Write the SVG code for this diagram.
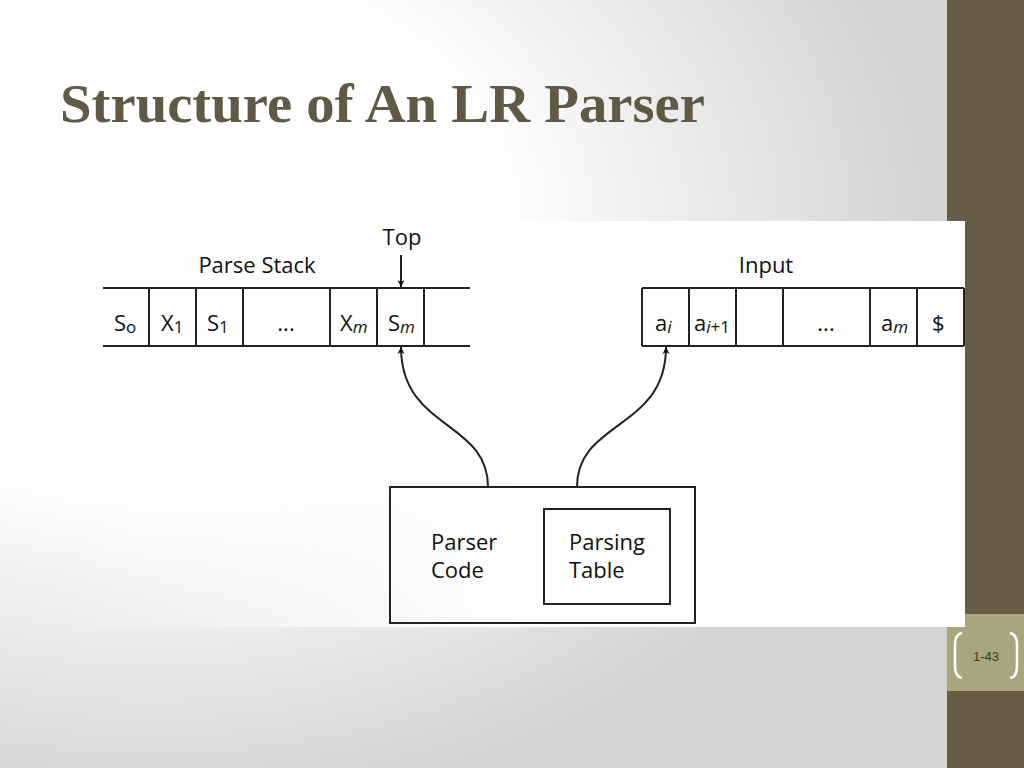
<svg xmlns="http://www.w3.org/2000/svg" width="1024" height="768" viewBox="0 0 1024 768">
<defs>
<radialGradient id="bg" cx="0.15" cy="0.3" r="0.75">
<stop offset="0.45" stop-color="#ffffff"/><stop offset="1" stop-color="#d4d4d4"/>
</radialGradient>
<linearGradient id="fade" x1="0" x2="1" y1="0" y2="0">
<stop offset="0" stop-color="#fff" stop-opacity="0"/><stop offset="0.5" stop-color="#fff" stop-opacity="1"/>
</linearGradient>
<marker id="ah" viewBox="0 0 10 10" refX="10" refY="5" markerWidth="7" markerHeight="9" orient="auto" markerUnits="userSpaceOnUse"><path d="M0,0 L10,5 L0,10 L3,5 z" fill="#111"/></marker>
<style>
.t{font-family:"Open Sans","DejaVu Sans",sans-serif;font-size:22px;fill:#111}
.s{font-family:"Open Sans","DejaVu Sans",sans-serif;font-size:17px;fill:#111}
.l{stroke:#222;stroke-width:2;fill:none}
</style>
</defs>
<rect width="1024" height="768" fill="url(#bg)"/>
<rect x="947" y="0" width="77" height="768" fill="#675c47"/>
<rect x="947" y="614" width="77" height="77" fill="#aaa57e"/>
<path d="M962,633 Q955,634 955,645 L955,666 Q955,677 962,678" stroke="#fff" stroke-width="2.5" fill="none"/>
<path d="M1010,633 Q1017,634 1017,645 L1017,666 Q1017,677 1010,678" stroke="#fff" stroke-width="2.5" fill="none"/>
<text x="986" y="661" text-anchor="middle" font-family="Liberation Sans,sans-serif" font-size="13" fill="#3d3a2a">1-43</text>
<text x="60" y="122" font-family="Liberation Serif,serif" font-size="54" font-weight="bold" fill="#5e5a44" textLength="645" lengthAdjust="spacingAndGlyphs">Structure of An LR Parser</text>
<rect x="60" y="221" width="905" height="406" fill="url(#fade)"/>
<rect x="520" y="221" width="445" height="406" fill="#fff"/>
<g id="stack">
<path class="l" d="M103,288H470M103,346H470M149,288V346M196,288V346M243,288V346M330,288V346M377,288V346M424,288V346"/>
<text class="t" x="257" y="273" text-anchor="middle">Parse Stack</text>
<text class="t" x="402" y="245" text-anchor="middle">Top</text>
<text class="t" x="114" y="331">S<tspan class="s" dy="2">o</tspan></text>
<text class="t" x="161" y="331">X<tspan class="s" dy="2">1</tspan></text>
<text class="t" x="207" y="331">S<tspan class="s" dy="2">1</tspan></text>
<text class="t" x="286" y="331" text-anchor="middle">...</text>
<text class="t" x="340" y="331">X<tspan class="s" dy="2" font-style="italic">m</tspan></text>
<text class="t" x="388" y="331">S<tspan class="s" dy="2" font-style="italic">m</tspan></text>
</g>
<g id="input">
<path class="l" d="M642,288H964M642,346H964M642,288V346M689,288V346M736,288V346M783,288V346M870,288V346M917,288V346M964,288V346"/>
<text class="t" x="766" y="273" text-anchor="middle">Input</text>
<text class="t" x="655" y="331">a<tspan class="s" dy="2" font-style="italic">i</tspan></text>
<text class="t" x="694" y="331">a<tspan class="s" dy="2"><tspan font-style="italic">i</tspan>+1</tspan></text>
<text class="t" x="826" y="331" text-anchor="middle">...</text>
<text class="t" x="881" y="331">a<tspan class="s" dy="2" font-style="italic">m</tspan></text>
<text class="t" x="932" y="331">$</text>
</g>
<g id="parser">
<rect class="l" x="390" y="487" width="305" height="136"/>
<text class="t" x="431" y="550">Parser</text>
<text class="t" x="431" y="578">Code</text>
</g>
<g id="table">
<rect class="l" x="544" y="509" width="126" height="95"/>
<text class="t" x="569" y="550">Parsing</text>
<text class="t" x="569" y="578">Table</text>
</g>
<g id="connectors">
<path class="l" stroke-width="1.5" d="M401,255V287" marker-end="url(#ah)"/>
<path class="l" stroke-width="1.5" d="M488,487C488,420 401,430 401,347" marker-end="url(#ah)"/>
<path class="l" stroke-width="1.5" d="M577,487C577,420 666,430 666,347" marker-end="url(#ah)"/>
</g>
</svg>
